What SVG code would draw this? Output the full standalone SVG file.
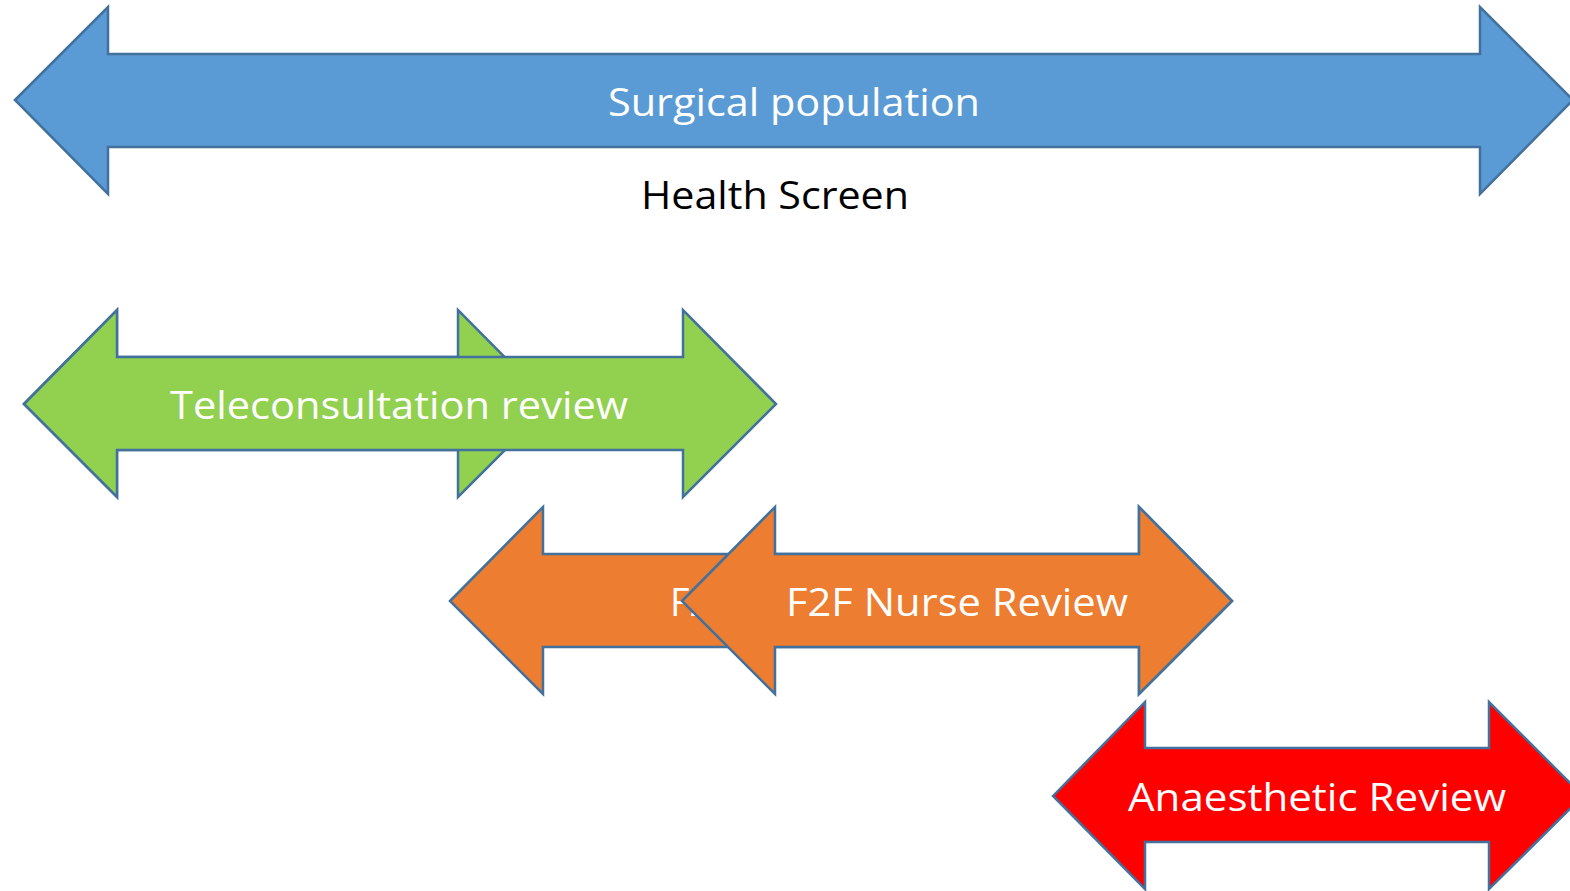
<svg xmlns="http://www.w3.org/2000/svg" width="1570" height="891" viewBox="0 0 1570 891">
<style>
.arr{stroke:#41719C;stroke-width:2.5;stroke-linejoin:miter}
.blue{fill:#5B9BD5}.green{fill:#92D050}.orange{fill:#ED7D31}.red{fill:#FF0000}
.lbl{font-family:"Open Sans","Noto Sans","Liberation Sans",sans-serif;font-size:38px;fill:#FFFFFF;text-anchor:middle}
.blk{fill:#000000}
</style>
<rect width="1570" height="891" fill="#FFFFFF"/>
<g id="surgical-population">
<polygon class="arr blue" points="15,100 108,7 108,54 1480,54 1480,7 1573,100 1480,194 1480,147 108,147 108,194"/>
<text class="lbl" x="794" y="116" textLength="372" lengthAdjust="spacingAndGlyphs">Surgical population</text>
</g>
<g id="health-screen">
<text class="lbl blk" x="775" y="209" textLength="268" lengthAdjust="spacingAndGlyphs">Health Screen</text>
</g>
<g id="teleconsultation-back">
<polygon class="arr green" points="24,404 117,310 117,357 458,357 458,310 551,404 458,497 458,450 117,450 117,497"/>
</g>
<g id="teleconsultation-review">
<polygon class="arr green" points="24,404 117,310 117,357 683,357 683,310 776,404 683,497 683,450 117,450 117,497"/>
<text class="lbl" x="399" y="419" textLength="458" lengthAdjust="spacingAndGlyphs">Teleconsultation review</text>
</g>
<g id="f2f-back">
<polygon class="arr orange" points="450,601 543,507 543,554 1139,554 1139,507 1232,601 1139,694 1139,647 543,647 543,694"/>
<text class="lbl" x="670" y="616" style="text-anchor:start">F2</text>
</g>
<g id="f2f-nurse-review">
<polygon class="arr orange" points="682,601 775,507 775,554 1139,554 1139,507 1232,601 1139,694 1139,647 775,647 775,694"/>
<text class="lbl" x="957" y="616" textLength="342" lengthAdjust="spacingAndGlyphs">F2F Nurse Review</text>
</g>
<g id="anaesthetic-review">
<polygon class="arr red" points="1053,796 1145,702 1145,748 1489,748 1489,702 1583,796 1489,889 1489,842 1145,842 1145,889"/>
<text class="lbl" x="1317" y="811" textLength="378" lengthAdjust="spacingAndGlyphs">Anaesthetic Review</text>
</g>
</svg>
